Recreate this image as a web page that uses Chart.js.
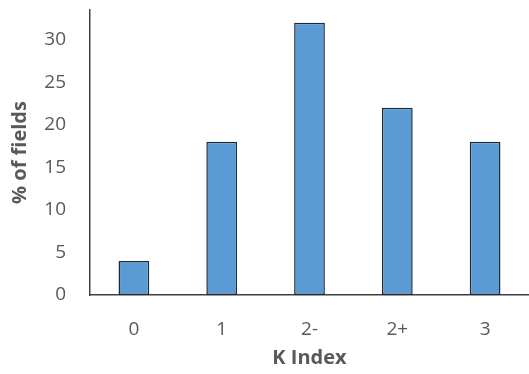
<!DOCTYPE html>
<html>
<head>
<meta charset="utf-8">
<script src="https://cdn.jsdelivr.net/npm/chart.js@4/dist/chart.umd.min.js"></script>
<style>
  html, body { margin: 0; padding: 0; background: #fff; }
  #wrap { width: 529px; height: 374px; }
</style>
</head>
<body>
<div id="wrap"><canvas id="c" width="529" height="374"></canvas></div>
<script>
// K index categories and share of fields in each
const kIndex = ['0', '1', '2-', '2+', '3'];
const percentFields = [4, 18, 32, 22, 18];
const yTicks = [0, 5, 10, 15, 20, 25, 30];

const textGray = '#595959';
const fontFamily = '"Open Sans", "Liberation Sans", sans-serif';

new Chart(document.getElementById('c'), {
  type: 'bar',
  data: {
    labels: kIndex,
    datasets: [{
      data: percentFields,
      backgroundColor: '#5B9BD5',
      borderColor: '#1e2a36',
      borderWidth: 1.5,
      borderSkipped: false,
      categoryPercentage: 1.0,
      barPercentage: 0.35
    }]
  },
  options: {
    responsive: false,
    animation: false,
    layout: { padding: { top: 10, right: 0, left: 0, bottom: 0 } },
    plugins: { legend: { display: false }, tooltip: { enabled: false } },
    scales: {
      x: {
        grid: { display: false },
        border: { display: true, color: '#404040', width: 1.5 },
        ticks: { color: textGray, font: { family: fontFamily, size: 19 }, padding: 15 },
        title: {
          display: true, text: 'K Index', color: textGray,
          font: { family: fontFamily, size: 20, weight: 'bold' }, padding: { top: 5 }
        },
        afterFit: s => { s.height = 79; s.paddingLeft = 0; s.paddingRight = 0; }
      },
      y: {
        min: 0,
        max: 33.5,
        grid: { display: false },
        border: { display: true, color: '#404040', width: 1.5 },
        afterBuildTicks: s => { s.ticks = yTicks.map(v => ({ value: v })); },
        ticks: { color: textGray, font: { family: fontFamily, size: 19 }, padding: 16 },
        title: {
          display: true, text: '% of fields', color: textGray,
          font: { family: fontFamily, size: 20, weight: 'bold' }, padding: { top: 8, bottom: 0 }
        },
        afterFit: s => { s.width = 90; s.paddingTop = 0; s.paddingBottom = 0; }
      }
    }
  }
});
</script>
</body>
</html>
